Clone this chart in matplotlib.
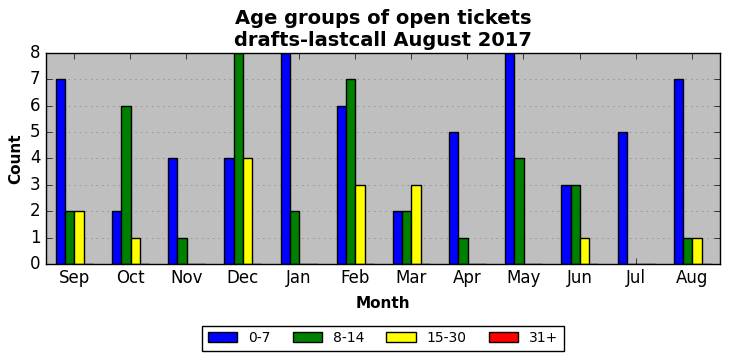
import numpy as np
import matplotlib
matplotlib.use("Agg")
import matplotlib.pyplot as plt

plt.style.use("classic")

months = ["Sep", "Oct", "Nov", "Dec", "Jan", "Feb", "Mar", "Apr", "May", "Jun", "Jul", "Aug"]
age_0_7 = [7, 2, 4, 4, 8, 6, 2, 5, 8, 3, 5, 7]
age_8_14 = [2, 6, 1, 8, 2, 7, 2, 1, 4, 3, 0, 1]
age_15_30 = [2, 1, 0, 4, 0, 3, 3, 0, 0, 1, 0, 1]
age_31 = [0, 0, 0, 0, 0, 0, 0, 0, 0, 0, 0, 0]

series = [("0-7", age_0_7, "blue"), ("8-14", age_8_14, "green"),
          ("15-30", age_15_30, "yellow"), ("31+", age_31, "red")]

fig = plt.figure(figsize=(7.31, 3.61), dpi=100)
ax = fig.add_axes([0.063, 0.269, 0.922, 0.584])
ax.set_facecolor("#bfbfbf")

x = np.arange(len(months))
w = 0.165
for i, (name, vals, col) in enumerate(series):
    ax.bar(x - 0.325 + i * w, vals, w, align="edge", color=col,
           edgecolor="black", linewidth=1, label=name)

ax.set_xlim(-0.5, 11.5)
ax.set_ylim(0, 8)
ax.set_xticks(x)
ax.set_xticklabels(months, fontsize=12)
ax.tick_params(axis="y", labelsize=12)
ax.yaxis.grid(True, linestyle=":", color="gray")
ax.set_axisbelow(True)
ax.set_xlabel("Month", fontsize=11, fontweight="bold", labelpad=6)
ax.set_ylabel("Count", fontsize=11, fontweight="bold")
ax.set_title("Age groups of open tickets\ndrafts-lastcall August 2017",
             fontsize=14, fontweight="bold", pad=5)
ax.legend(loc="upper center", bbox_to_anchor=(0.5, -0.26), ncol=4,
          fontsize=10, fancybox=False, handlelength=2.1, columnspacing=1.6)

fig.savefig("out.png", dpi=100)
